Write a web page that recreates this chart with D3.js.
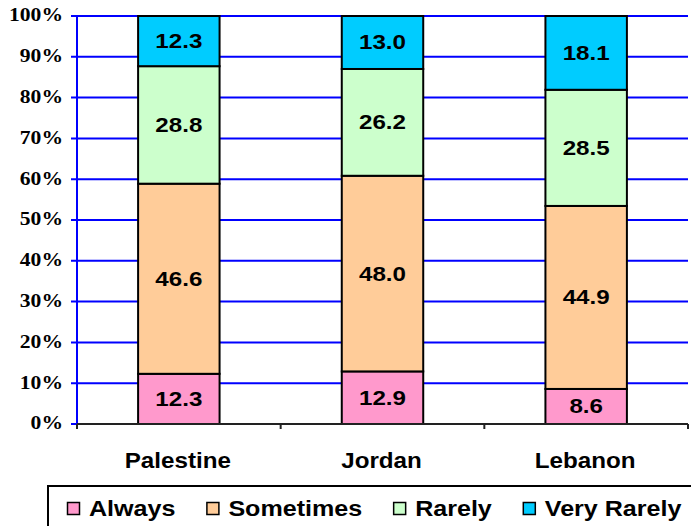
<!DOCTYPE html>
<html><head><meta charset="utf-8">
<script src="https://cdn.jsdelivr.net/npm/d3@7"></script>
<style>html,body{margin:0;padding:0;background:#fff;}svg{display:block;}</style>
</head><body>
<svg id="chart" width="691" height="526"></svg>
<script>
const categories = ["Palestine", "Jordan", "Lebanon"];
const seriesNames = ["Always", "Sometimes", "Rarely", "Very Rarely"];
const always = [12.3, 12.9, 8.6];
const sometimes = [46.6, 48.0, 44.9];
const rarely = [28.8, 26.2, 28.5];
const veryRarely = [12.3, 13.0, 18.1];
const yTicks = [0, 10, 20, 30, 40, 50, 60, 70, 80, 90, 100];
const colors = ["#FF99CC", "#FFCC99", "#CCFFCC", "#00CCFF"];

const seriesValues = [always, sometimes, rarely, veryRarely];
const rows = categories.map((c, i) => {
  const r = {cat: c};
  seriesNames.forEach((s, k) => r[s] = seriesValues[k][i]);
  return r;
});

const SERIF = '"Liberation Serif", "Times New Roman"';
const SANS = '"Liberation Sans", "Arial"';
const svg = d3.select("#chart");
const pLeft = 77, pRight = 688, pTop = 16, pBottom = 424;

const x = d3.scaleBand().domain(categories).range([pLeft, pRight]).paddingInner(0.6).paddingOuter(0.3);
const y = d3.scaleLinear().domain([0, 100]).range([pBottom, pTop]);

// gridlines
svg.append("g").selectAll("line").data(yTicks).join("line")
  .attr("x1", pLeft - 6).attr("x2", d => d === 0 ? pLeft : pRight)
  .attr("y1", d => y(d)).attr("y2", d => y(d))
  .attr("stroke", "#0000FF").attr("stroke-width", 2);

// y axis line
svg.append("line").attr("x1", pLeft).attr("x2", pLeft).attr("y1", pTop).attr("y2", pBottom)
  .attr("stroke", "#0000FF").attr("stroke-width", 2);

// y labels
svg.append("g").selectAll("g").data(yTicks).join("g")
  .attr("transform", d => `translate(63,${y(d) - 1}) scale(1.2,1)`)
  .append("text").attr("text-anchor", "end").attr("dominant-baseline", "central")
  .style("font-family", SERIF).style("font-weight", "bold").style("font-size", "18px")
  .attr("fill", "#000").text(d => d + "%");

// stacked bars
const stack = d3.stack().keys(seriesNames).offset(d3.stackOffsetExpand);
const stacked = stack(rows);
const groups = svg.append("g").selectAll("g").data(stacked).join("g")
  .attr("fill", (d, i) => colors[i]);
groups.selectAll("rect").data(d => d).join("rect")
  .attr("x", d => x(d.data.cat)).attr("width", x.bandwidth())
  .attr("y", d => y(d[1] * 100)).attr("height", d => y(d[0] * 100) - y(d[1] * 100))
  .attr("stroke", "#000").attr("stroke-width", 2);

// value labels
stacked.forEach((s) => {
  svg.append("g").selectAll("g").data(s).join("g")
    .attr("transform", d => `translate(${x(d.data.cat) + x.bandwidth() / 2},${y((d[0] + d[1]) * 50)}) scale(1.15,1)`)
    .append("text").attr("text-anchor", "middle").attr("dominant-baseline", "central")
    .style("font-family", SANS).style("font-weight", "bold").style("font-size", "21px")
    .attr("fill", "#000")
    .text(d => d.data[s.key].toFixed(1));
});

// x axis
svg.append("line").attr("x1", pLeft).attr("x2", pRight).attr("y1", pBottom).attr("y2", pBottom)
  .attr("stroke", "#222").attr("stroke-width", 2);
const tickXs = [pLeft].concat(categories.map(c => x(c) + x.bandwidth() / 2 + x.step() / 2));
svg.append("g").selectAll("line").data(tickXs).join("line")
  .attr("x1", d => d).attr("x2", d => d).attr("y1", pBottom).attr("y2", pBottom + 5)
  .attr("stroke", "#222").attr("stroke-width", 2);

// category labels
svg.append("g").selectAll("g").data(categories).join("g")
  .attr("transform", d => `translate(${x(d) + x.bandwidth() / 2 - 1},468) scale(1.1,1)`)
  .append("text").attr("text-anchor", "middle")
  .style("font-family", SANS).style("font-weight", "bold").style("font-size", "22px")
  .attr("fill", "#000").text(d => d);

// legend
const lg = svg.append("g");
lg.append("rect").attr("x", 48).attr("y", 486).attr("width", 700).attr("height", 80)
  .attr("fill", "#fff").attr("stroke", "#000").attr("stroke-width", 2);
let lx = 67;
const LSX = 1.14;
seriesNames.forEach((name, i) => {
  lg.append("rect").attr("x", lx + 0.5).attr("y", 502.5).attr("width", 12).attr("height", 12)
    .attr("fill", colors[i]).attr("stroke", "#000").attr("stroke-width", 1.5);
  const t = lg.append("g").attr("transform", `translate(${lx + 22},516) scale(${LSX},1)`)
    .append("text").style("font-family", SANS).style("font-weight", "bold").style("font-size", "22px")
    .attr("fill", "#000").text(name);
  const w = t.node().getComputedTextLength() * LSX;
  lx = lx + 22 + w + 31;
});
</script>
</body></html>
